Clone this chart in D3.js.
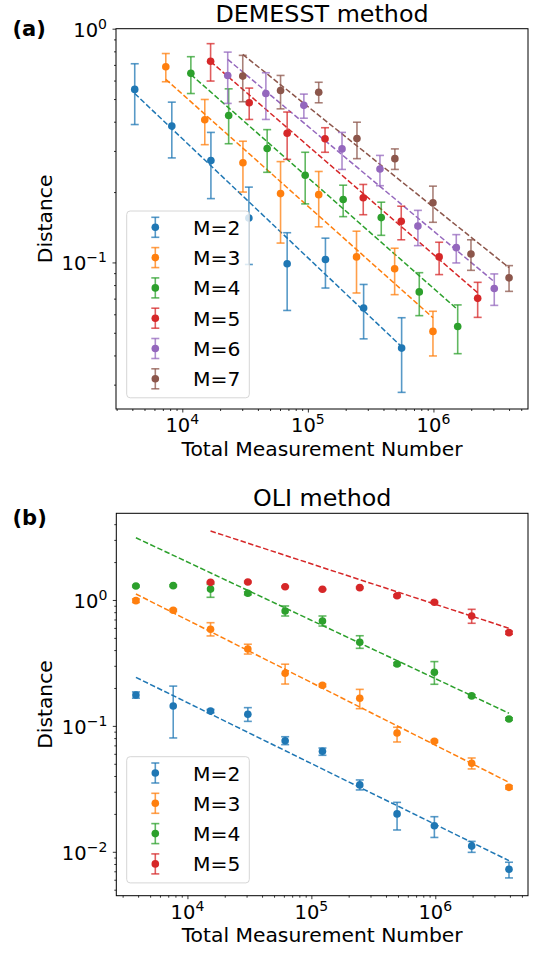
<!DOCTYPE html>
<html>
<head>
<meta charset="utf-8">
<script src="https://d3js.org/d3.v7.min.js"></script>
<style>
body{margin:0;background:#fff;}
text{font-family:"DejaVu Sans",sans-serif;fill:#000;}
</style>
</head>
<body>
<script>
var colors = ["#1f77b4","#ff7f0e","#2ca02c","#d62728","#9467bd","#8c564b"];

// (a) DEMESST method
var demLabels = ["M=2","M=3","M=4","M=5","M=6","M=7"];
var demN = [
  [4180, 8250, 16900, 33900, 68400, 138000, 278000, 558000],
  [7390, 15100, 30400, 60600, 122000, 244000, 491000, 991000],
  [11700, 23400, 47400, 95200, 191000, 384000, 771000, 1560000],
  [16800, 34100, 68400, 137000, 276000, 554000, 1110000, 2250000],
  [23000, 46300, 92900, 187000, 375000, 752000, 1520000, 3050000],
  [30300, 60600, 122000, 246000, 493000, 991000, 1990000, 4000000]
];
var demD = [
  [0.55, 0.383, 0.273, 0.155, 0.0987, 0.103, 0.0638, 0.043],
  [0.687, 0.408, 0.267, 0.197, 0.195, 0.1056, 0.094, 0.0507],
  [0.644, 0.425, 0.307, 0.236, 0.186, 0.1555, 0.0748, 0.0532],
  [0.726, 0.482, 0.357, 0.338, 0.189, 0.15, 0.1056, 0.0702],
  [0.631, 0.528, 0.47, 0.306, 0.251, 0.143, 0.1157, 0.0773],
  [0.627, 0.544, 0.535, 0.339, 0.278, 0.18, 0.1087, 0.0859]
];
var demHi = [
  [0.708, 0.485, 0.36, 0.21, 0.134, 0.127, 0.0805, 0.058],
  [0.783, 0.498, 0.33, 0.27, 0.245, 0.136, 0.115, 0.0618],
  [0.759, 0.553, 0.37, 0.296, 0.214, 0.181, 0.0904, 0.0658],
  [0.863, 0.557, 0.44, 0.377, 0.2156, 0.174, 0.122, 0.0822],
  [0.794, 0.648, 0.525, 0.36, 0.287, 0.167, 0.1315, 0.0893],
  [0.769, 0.631, 0.59, 0.398, 0.306, 0.212, 0.125, 0.0969]
];
var demLo = [
  [0.389, 0.28, 0.1875, 0.098, 0.0623, 0.0777, 0.0471, 0.0278],
  [0.593, 0.319, 0.2, 0.121, 0.142, 0.074, 0.0728, 0.0398],
  [0.528, 0.322, 0.243, 0.178, 0.157, 0.1306, 0.0592, 0.0407],
  [0.597, 0.409, 0.276, 0.296, 0.16, 0.125, 0.0887, 0.0582],
  [0.479, 0.409, 0.414, 0.25, 0.213, 0.118, 0.0995, 0.0655],
  [0.487, 0.454, 0.482, 0.278, 0.25, 0.1485, 0.0925, 0.0752]
];
// fitted line: value at first and last N of each series
var demFit = [[0.528, 0.0436], [0.607, 0.058], [0.637, 0.0628], [0.724, 0.0742], [0.739, 0.0827], [0.776, 0.095]];

// (b) OLI method
var oliLabels = ["M=2","M=3","M=4","M=5"];
var oliN = [3840, 7680, 15360, 30720, 61440, 122880, 245760, 491520, 983040, 1966080, 3932160];
var oliD = [
  [0.176, 0.144, 0.131, 0.1236, 0.0763, 0.0629, 0.034, 0.02, 0.0161, 0.0111, 0.00726],
  [0.988, 0.828, 0.585, 0.408, 0.262, 0.21, 0.1657, 0.0878, 0.0755, 0.0505, 0.0325],
  [1.29, 1.30, 1.22, 1.13, 0.818, 0.681, 0.461, 0.31, 0.267, 0.173, 0.1135],
  [null, null, 1.38, 1.39, 1.275, 1.216, 1.253, 1.081, 0.959, 0.746, 0.55]
];
var oliHi = [
  [0.186, 0.207, 0.135, 0.1396, 0.082, 0.0667, 0.0372, 0.0247, 0.019, 0.0121, 0.00826],
  [1.02, 0.845, 0.66, 0.445, 0.309, 0.215, 0.195, 0.0975, 0.077, 0.0556, 0.0335],
  [1.31, 1.32, 1.33, 1.16, 0.896, 0.746, 0.52, 0.318, 0.324, 0.177, 0.116],
  [null, null, 1.40, 1.41, 1.29, 1.23, 1.27, 1.10, 0.975, 0.843, 0.565]
];
var oliLo = [
  [0.166, 0.0802, 0.127, 0.1086, 0.071, 0.0584, 0.031, 0.0149, 0.013, 0.0099, 0.0062],
  [0.956, 0.81, 0.518, 0.372, 0.215, 0.205, 0.137, 0.0745, 0.074, 0.0455, 0.0315],
  [1.27, 1.28, 1.05, 1.10, 0.746, 0.621, 0.413, 0.302, 0.214, 0.169, 0.111],
  [null, null, 1.36, 1.37, 1.26, 1.20, 1.235, 1.06, 0.945, 0.653, 0.535]
];
var oliFit = [[0.243, 0.0085], [1.116, 0.0356], [3.12, 0.126], [3.53, 0.596]];

// tick labels
var xTickVals = [1e4, 1e5, 1e6], xTickExp = ["4", "5", "6"];
var demYTickVals = [0.1, 1], demYTickExp = ["\u22121", "0"];
var oliYTickVals = [0.01, 0.1, 1], oliYTickExp = ["\u22122", "\u22121", "0"];

var svg = d3.select("body").append("svg")
  .attr("width", 536).attr("height", 954);

function drawPanel(o) {
  var g = svg.append("g");
  var x = d3.scaleLog().domain(o.xDom).range([o.left, o.right]);
  var y = d3.scaleLog().domain(o.yDom).range([o.bottom, o.top]);

  // minor + major ticks
  var xMinor = x.ticks().filter(function(t){ return o.xMaj.indexOf(t) < 0; });
  var yMinor = y.ticks().filter(function(t){ return o.yMaj.indexOf(t) < 0; });
  g.append("g").attr("transform", "translate(0," + o.bottom + ")")
    .call(d3.axisBottom(x).tickValues(xMinor).tickSize(2).tickFormat(""));
  g.append("g").attr("transform", "translate(0," + o.bottom + ")")
    .call(d3.axisBottom(x).tickValues(o.xMaj).tickSize(3.5).tickFormat(""));
  g.append("g").attr("transform", "translate(" + o.left + ",0)")
    .call(d3.axisLeft(y).tickValues(yMinor).tickSize(2).tickFormat(""));
  g.append("g").attr("transform", "translate(" + o.left + ",0)")
    .call(d3.axisLeft(y).tickValues(o.yMaj).tickSize(3.5).tickFormat(""));
  g.selectAll(".domain").remove();
  g.selectAll(".tick line").attr("stroke", "#000").attr("stroke-width", 0.8);

  // tick labels with superscripts
  o.xMaj.forEach(function(v, i) {
    var t = g.append("text").attr("x", x(v)).attr("y", o.bottom + 23)
      .attr("text-anchor", "middle").style("font-size", "19.5px");
    t.append("tspan").text("10");
    t.append("tspan").attr("dy", -8).style("font-size", "14px").text(o.xExp[i]);
  });
  o.yMaj.forEach(function(v, i) {
    var t = g.append("text").attr("x", o.left - 9).attr("y", y(v) + 8)
      .attr("text-anchor", "end").style("font-size", "19.5px");
    t.append("tspan").text("10");
    t.append("tspan").attr("dy", -8).style("font-size", "14px").text(o.yExp[i]);
  });

  // fitted dashed lines
  o.N.forEach(function(ns, s) {
    var xs = o.D[s].map(function(d, i){ return d == null ? null : ns[i]; }).filter(function(v){ return v != null; });
    g.append("line")
      .attr("x1", x(xs[0])).attr("y1", y(o.fit[s][0]))
      .attr("x2", x(xs[xs.length - 1])).attr("y2", y(o.fit[s][1]))
      .attr("stroke", colors[s]).attr("stroke-width", 1.5)
      .attr("stroke-dasharray", "5.5,2.4");
  });

  // error bars and points
  o.N.forEach(function(ns, s) {
    var pts = ns.map(function(n, i){ return {n: n, d: o.D[s][i], lo: o.lo[s][i], hi: o.hi[s][i]}; })
      .filter(function(p){ return p.d != null; });
    var eg = g.append("g").attr("stroke", colors[s]).attr("stroke-width", 1.6).attr("stroke-opacity", 0.75);
    pts.forEach(function(p) {
      var cx = x(p.n);
      eg.append("line").attr("x1", cx).attr("x2", cx).attr("y1", y(p.lo)).attr("y2", y(p.hi));
      eg.append("line").attr("x1", cx - 4).attr("x2", cx + 4).attr("y1", y(p.lo)).attr("y2", y(p.lo));
      eg.append("line").attr("x1", cx - 4).attr("x2", cx + 4).attr("y1", y(p.hi)).attr("y2", y(p.hi));
    });
    g.selectAll(null).data(pts).enter().append("circle")
      .attr("cx", function(p){ return x(p.n); })
      .attr("cy", function(p){ return y(p.d); })
      .attr("r", 3.8).attr("fill", colors[s]);
  });

  // frame
  g.append("rect").attr("x", o.left).attr("y", o.top)
    .attr("width", o.right - o.left).attr("height", o.bottom - o.top)
    .attr("fill", "none").attr("stroke", "#000").attr("stroke-width", 1);

  // legend
  var lg = g.append("g");
  lg.append("rect").attr("x", 126.7).attr("y", o.legTop)
    .attr("width", 122.6).attr("height", o.labels.length * 30.3 + 5)
    .attr("rx", 3.5).attr("fill", "#fff").attr("fill-opacity", 0.8)
    .attr("stroke", "#d6d6d6").attr("stroke-width", 1);
  o.labels.forEach(function(lab, s) {
    var cy = o.legTop + 16.3 + s * 30.3;
    var m = lg.append("g").attr("stroke", colors[s]).attr("stroke-width", 1.6).attr("stroke-opacity", 0.75);
    m.append("line").attr("x1", 155.3).attr("x2", 155.3).attr("y1", cy - 10).attr("y2", cy + 10);
    m.append("line").attr("x1", 151.3).attr("x2", 159.3).attr("y1", cy - 10).attr("y2", cy - 10);
    m.append("line").attr("x1", 151.3).attr("x2", 159.3).attr("y1", cy + 10).attr("y2", cy + 10);
    lg.append("circle").attr("cx", 155.3).attr("cy", cy).attr("r", 3.8).attr("fill", colors[s]);
    lg.append("text").attr("x", 193).attr("y", cy + 7.5).style("font-size", "20.3px").text(lab);
  });

  // titles and labels
  g.append("text").attr("x", (o.left + o.right) / 2).attr("y", o.top - 7)
    .attr("text-anchor", "middle").style("font-size", "23.8px").text(o.title);
  g.append("text").attr("x", 12.5).attr("y", o.letterY)
    .style("font-size", "21px").style("font-weight", "bold").text(o.letter);
  g.append("text").attr("x", (o.left + o.right) / 2).attr("y", o.bottom + 46.5)
    .attr("text-anchor", "middle").style("font-size", "20.3px").text("Total Measurement Number");
  g.append("text")
    .attr("transform", "translate(51.5," + ((o.top + o.bottom) / 2) + ") rotate(-90)")
    .attr("text-anchor", "middle").style("font-size", "20.3px").text("Distance");
}

drawPanel({
  left: 116, right: 528, top: 28.7, bottom: 409,
  xDom: [2965, 5.662e6], yDom: [0.0236, 1.0],
  xMaj: xTickVals, xExp: xTickExp, yMaj: demYTickVals, yExp: demYTickExp,
  N: demN, D: demD, lo: demLo, hi: demHi, fit: demFit,
  labels: demLabels, legTop: 211,
  title: "DEMESST method", letter: "(a)", letterY: 36
});

drawPanel({
  left: 116.3, right: 528, top: 513.3, bottom: 895.7,
  xDom: [2667, 5.598e6], yDom: [0.00448, 4.88],
  xMaj: xTickVals, xExp: xTickExp, yMaj: oliYTickVals, yExp: oliYTickExp,
  N: oliLabels.map(function(){ return oliN; }), D: oliD, lo: oliLo, hi: oliHi, fit: oliFit,
  labels: oliLabels, legTop: 756.7,
  title: "OLI method", letter: "(b)", letterY: 525
});
</script>
</body>
</html>
